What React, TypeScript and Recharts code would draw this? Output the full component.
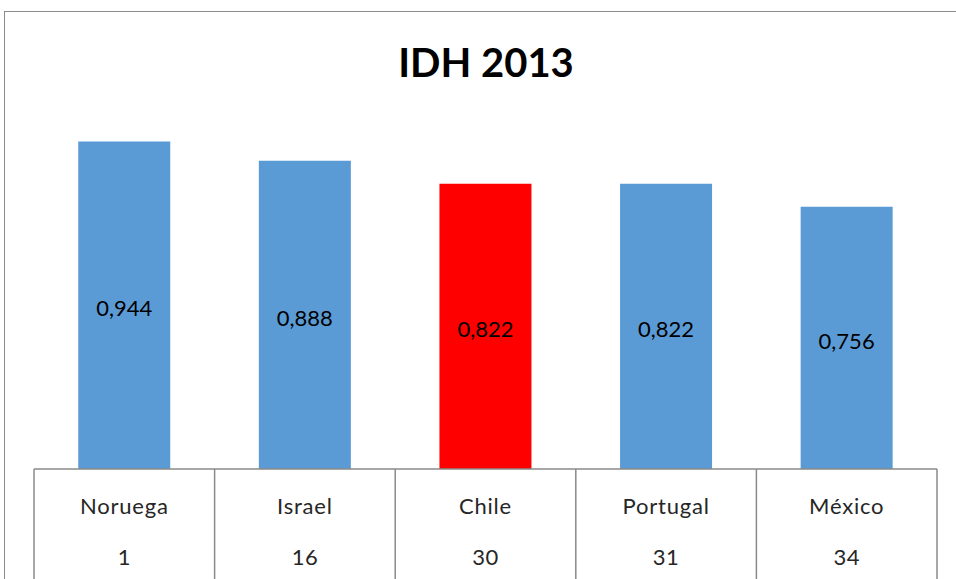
import { BarChart, Bar, XAxis, YAxis, Cell, LabelList } from "recharts";

const countries = ["Noruega", "Israel", "Chile", "Portugal", "México"];
const ranks = [1, 16, 30, 31, 34];
const idh = [0.944, 0.888, 0.822, 0.822, 0.756];
const highlight = "Chile";

const W = 956;
const H = 579;
const margin = { top: 122, right: 19, bottom: 0, left: 34 };
const band = (W - margin.left - margin.right) / countries.length;
const font = "Lato, 'Open Sans', sans-serif";

const data = countries.map((c, i) => ({ name: c, rank: ranks[i], value: idh[i] }));

function TableTick(props: any) {
  const { x, y, index } = props;
  const left = x - band / 2;
  const right = x + band / 2;
  return (
    <g>
      <line x1={left} y1={y} x2={left} y2={H} stroke="#8a8a8a" strokeWidth={1.5} />
      {index === countries.length - 1 && (
        <line x1={right} y1={y} x2={right} y2={H} stroke="#8a8a8a" strokeWidth={1.5} />
      )}
      <text x={x} y={y + 45} textAnchor="middle" fontSize={22} letterSpacing={0.8} fill="#262626" fontFamily={font}>
        {countries[index]}
      </text>
      <text x={x} y={y + 96} textAnchor="middle" fontSize={22} letterSpacing={0.5} fill="#262626" fontFamily={font}>
        {ranks[index]}
      </text>
    </g>
  );
}

export default function App() {
  return (
    <div style={{ position: "absolute", left: 0, top: 0, width: W, height: H, overflow: "hidden", background: "#fff" }}>
      <div
        style={{
          position: "absolute",
          left: 4,
          top: 11,
          width: W + 100,
          height: H + 100,
          border: "1.5px solid #8c8c8c",
        }}
      />
      <div
        style={{
          position: "absolute",
          left: 8,
          top: 38,
          width: W,
          textAlign: "center",
          fontFamily: font,
          fontWeight: 700,
          fontSize: 40,
          color: "#000",
        }}
      >
        IDH 2013
      </div>
      <div style={{ position: "absolute", left: 0, top: 0 }}>
        <BarChart width={W} height={H} data={data} margin={margin} barCategoryGap="24.5%">
          <XAxis
            dataKey="name"
            height={110}
            tickLine={false}
            tickSize={0}
            tickMargin={0}
            axisLine={{ stroke: "#8a8a8a", strokeWidth: 1.5 }}
            tick={<TableTick />}
            interval={0}
          />
          <YAxis hide domain={[0, 1]} />
          <Bar dataKey="value" isAnimationActive={false}>
            {data.map((d) => (
              <Cell key={d.name} fill={d.name === highlight ? "#ff0000" : "#5b9bd5"} />
            ))}
            <LabelList
              dataKey="value"
              position="center"
              fill="#000"
              fontSize={22}
              fontFamily={font}
              dy={3}
              formatter={(v: any) => Number(v).toFixed(3).replace(".", ",")}
            />
          </Bar>
        </BarChart>
      </div>
    </div>
  );
}
